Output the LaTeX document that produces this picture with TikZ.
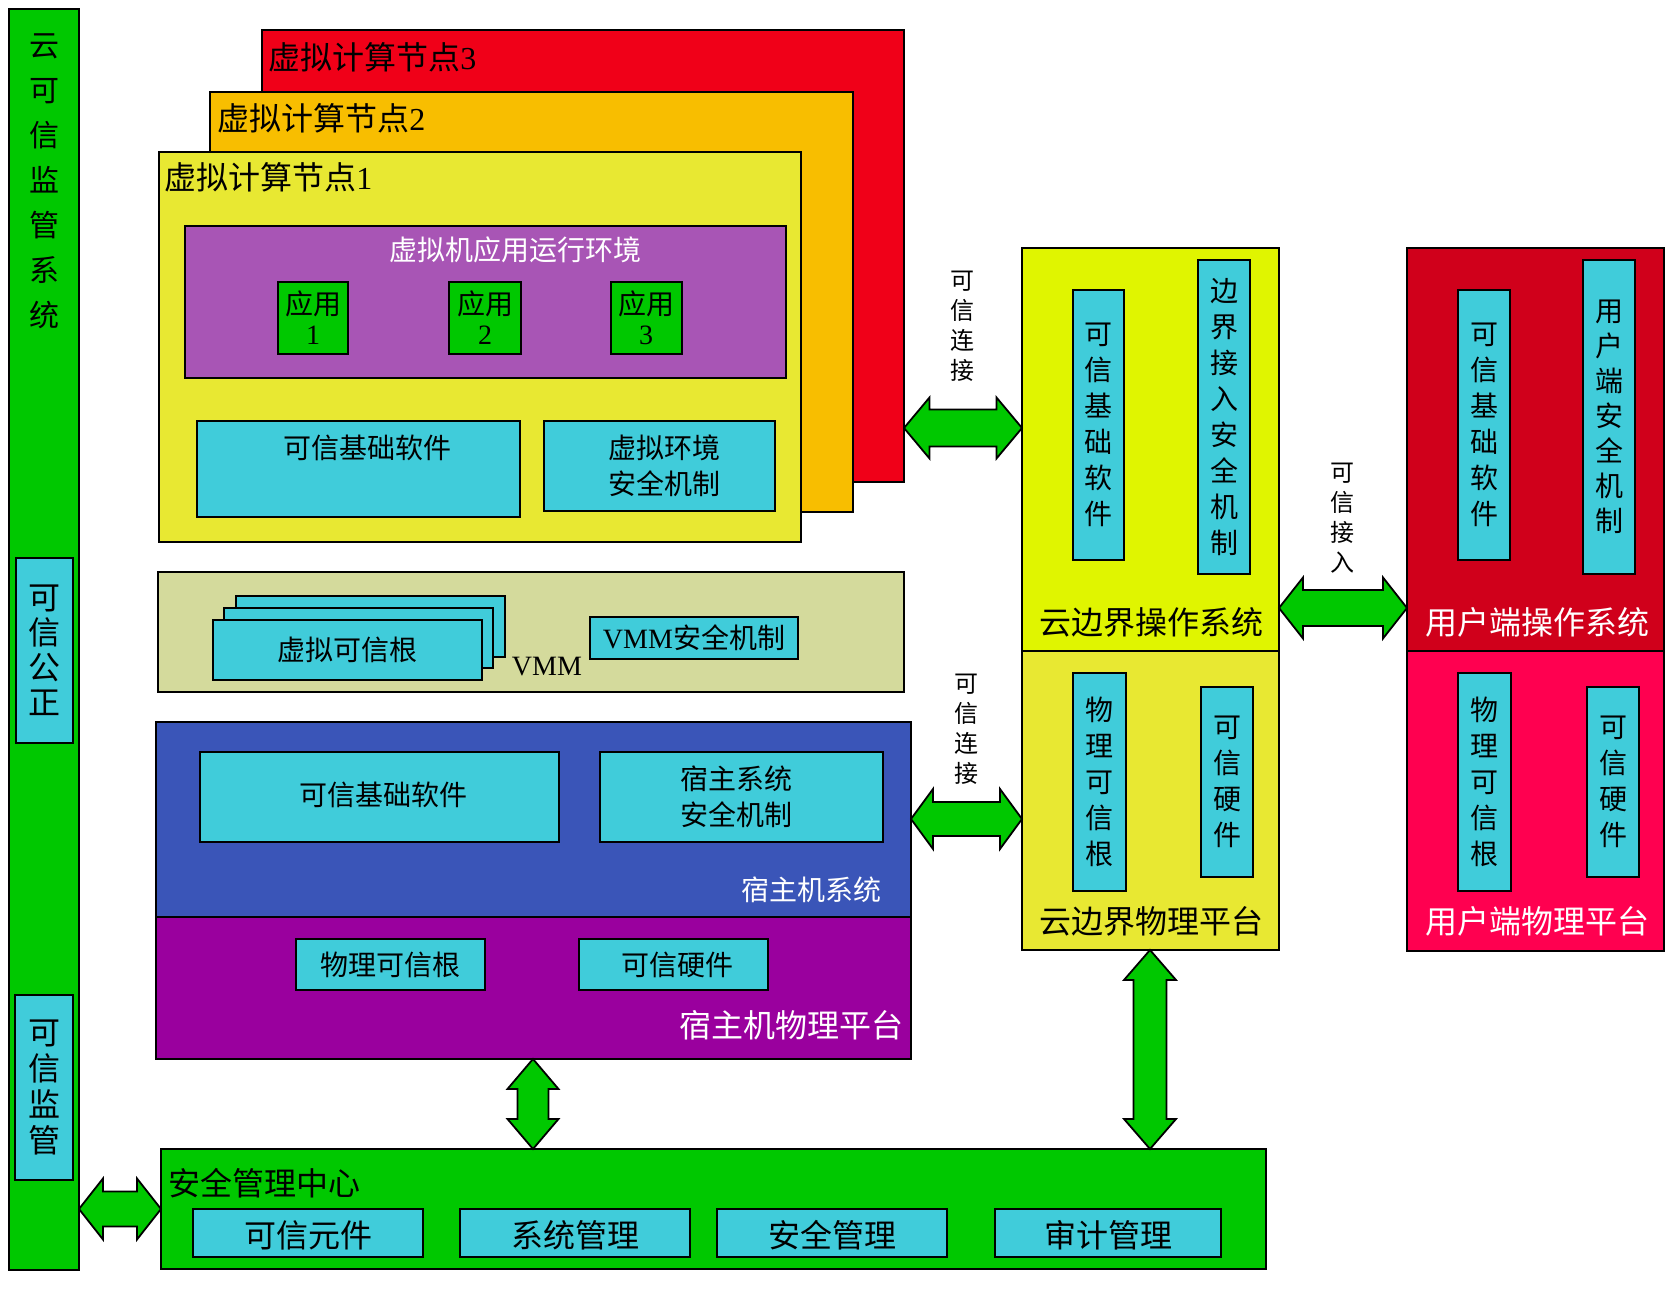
\documentclass[tikz,border=0pt]{standalone}
\usepackage{fontspec}
\setmainfont{Noto Sans CJK SC}
\newfontfamily\lat{Liberation Serif}
\usetikzlibrary{fit,calc}
\definecolor{cgreen}{RGB}{0,200,0}
\definecolor{cred}{RGB}{240,0,24}
\definecolor{corange}{RGB}{248,190,0}
\definecolor{cyellow}{RGB}{232,232,50}
\definecolor{clime}{RGB}{224,245,0}
\definecolor{cviolet}{RGB}{168,85,181}
\definecolor{ccyan}{RGB}{64,204,218}
\definecolor{cvmm}{RGB}{212,218,156}
\definecolor{cblue}{RGB}{58,85,184}
\definecolor{cpurple}{RGB}{154,0,158}
\definecolor{cdred}{RGB}{208,0,27}
\definecolor{cpink}{RGB}{255,0,80}
\newcommand\harr[5]{\draw[arr] let \p1=(#1), \p2=(#2) in
  (\p1) -- (\x1+#5,\y1+#4) -- (\x1+#5,\y1+#3) -- (\x2-#5,\y1+#3) -- (\x2-#5,\y1+#4)
  -- (\x2,\y1) -- (\x2-#5,\y1-#4) -- (\x2-#5,\y1-#3) -- (\x1+#5,\y1-#3) -- (\x1+#5,\y1-#4) -- cycle;}
\newcommand\varr[5]{\draw[arr] let \p1=(#1), \p2=(#2) in
  (\p1) -- (\x1+#4,\y1-#5) -- (\x1+#3,\y1-#5) -- (\x1+#3,\y2+#5) -- (\x1+#4,\y2+#5)
  -- (\x1,\y2) -- (\x1-#4,\y2+#5) -- (\x1-#3,\y2+#5) -- (\x1-#3,\y1-#5) -- (\x1-#4,\y1-#5) -- cycle;}
\begin{document}
\begin{tikzpicture}[x=0.5pt,y=-0.5pt,
  box/.style={draw=black,line width=1pt,inner sep=0pt,outer sep=0pt},
  cybox/.style={box,fill=ccyan},
  t12/.style={inner sep=0pt,font=\fontsize{12}{15}\selectfont,align=center},
  t14/.style={inner sep=0pt,font=\fontsize{14}{18}\selectfont,align=center},
  t16/.style={inner sep=0pt,font=\fontsize{16}{19}\selectfont,align=center},
  arr/.style={draw=black,line width=0.9pt,fill=cgreen,line join=miter}]
\fill[white] (0,0) rectangle (1672,1293);
\useasboundingbox (0,0) rectangle (1672,1293);

% left monitoring bar
\node[box,fill=cgreen,fit={(9,9)(79,1270)}] (mon) {};
\node[inner sep=0pt,font=\fontsize{15}{22.5}\selectfont,align=center] (mont) at (44,181) {云\\可\\信\\监\\管\\系\\统};
\node[cybox,fit={(16,558)(73,743)}] (mon1) {};
\node[inner sep=0pt,font=\fontsize{16}{17.5}\selectfont,align=center] (mon1t) at (mon1) {可\\信\\公\\正};
\node[cybox,fit={(15,995)(73,1180)}] (mon2) {};
\node[inner sep=0pt,font=\fontsize{16}{18}\selectfont,align=center] (mon2t) at (mon2) {可\\信\\监\\管};

% virtual compute nodes
\node[box,fill=cred,fit={(262,30)(904,482)}] (n3) {};
\node[t16,anchor=west] (n3t) at (268,57) {虚拟计算节点{\lat 3}};
\node[box,fill=corange,fit={(210,92)(853,512)}] (n2) {};
\node[t16,anchor=west] (n2t) at (217,118) {虚拟计算节点{\lat 2}};
\node[box,fill=cyellow,fit={(159,152)(801,542)}] (n1) {};
\node[t16,anchor=west] (n1t) at (164,177) {虚拟计算节点{\lat 1}};

\node[box,fill=cviolet,fit={(185,226)(786,378)}] (env) {};
\node[t14,text=white] (envt) at (515,250) {虚拟机应用运行环境};
\node[box,fill=cgreen,fit={(278,282)(348,354)}] (app1) {};
\node[box,fill=cgreen,fit={(449,282)(521,354)}] (app2) {};
\node[box,fill=cgreen,fit={(611,282)(682,354)}] (app3) {};
\node[t14,font=\fontsize{14}{15}\selectfont] (app1t) at (313,318) {应用\\{\lat 1}};
\node[t14,font=\fontsize{14}{15}\selectfont] (app2t) at (485,318) {应用\\{\lat 2}};
\node[t14,font=\fontsize{14}{15}\selectfont] (app3t) at (646,318) {应用\\{\lat 3}};

\node[cybox,fit={(197,421)(520,517)}] (n1sw) {};
\node[t14] (n1swt) at (367,448) {可信基础软件};
\node[cybox,fit={(544,421)(775,511)}] (n1sec) {};
\node[t14] (n1sect) at (664,466) {虚拟环境\\安全机制};

% VMM
\node[box,fill=cvmm,fit={(158,572)(904,692)}] (vmm) {};
\node[cybox,fit={(236,596)(505,657)}] (vroot3) {};
\node[cybox,fit={(224,608)(493,668)}] (vroot2) {};
\node[cybox,fit={(213,620)(482,680)}] (vroot1) {};
\node[t14] (vroott) at (vroot1) {虚拟可信根};
\node[t14] (vmmt) at (547,667) {\lat VMM};
\node[cybox,fit={(590,617)(798,659)}] (vmmsec) {};
\node[t14] (vmmsect) at (vmmsec) {{\lat VMM}安全机制};

% host system
\node[box,fill=cblue,fit={(156,722)(911,917)}] (host) {};
\node[cybox,fit={(200,752)(559,842)}] (hsw) {};
\node[t14] (hswt) at (383,795) {可信基础软件};
\node[cybox,fit={(600,752)(883,842)}] (hsec) {};
\node[t14] (hsect) at (736,797) {宿主系统\\安全机制};
\node[t14,text=white] (hostt) at (811,890) {宿主机系统};
\node[box,fill=cpurple,fit={(156,917)(911,1059)}] (hphy) {};
\node[cybox,fit={(296,939)(485,990)}] (hroot) {};
\node[t14] (hroott) at (hroot) {物理可信根};
\node[cybox,fit={(579,939)(768,990)}] (hhw) {};
\node[t14] (hhwt) at (677,965) {可信硬件};
\node[t16,text=white] (hphyt) at (791,1025) {宿主机物理平台};

% security management center
\node[box,fill=cgreen,fit={(161,1149)(1266,1269)}] (smc) {};
\node[t16,anchor=west] (smct) at (168,1183) {安全管理中心};
\node[cybox,fit={(193,1209)(423,1257)}] (sc1) {};
\node[t16] at (308,1235) {可信元件};
\node[cybox,fit={(460,1209)(690,1257)}] (sc2) {};
\node[t16] at (575,1235) {系统管理};
\node[cybox,fit={(717,1209)(947,1257)}] (sc3) {};
\node[t16] at (832,1235) {安全管理};
\node[cybox,fit={(995,1209)(1221,1257)}] (sc4) {};
\node[t16] at (1108,1235) {审计管理};

% cloud boundary
\node[box,fill=clime,fit={(1022,248)(1279,651)}] (cos) {};
\node[cybox,fit={(1073,290)(1124,560)}] (csw) {};
\node[t14] (cswt) at (csw) {可\\信\\基\\础\\软\\件};
\node[cybox,fit={(1198,260)(1250,574)}] (cbsec) {};
\node[t14] (cbsect) at (cbsec) {边\\界\\接\\入\\安\\全\\机\\制};
\node[t16] (cost) at (1151,622) {云边界操作系统};
\node[box,fill=cyellow,fit={(1022,651)(1279,950)}] (cphy) {};
\node[cybox,fit={(1073,673)(1126,891)}] (croot) {};
\node[t14] (croott) at (croot) {物\\理\\可\\信\\根};
\node[cybox,fit={(1201,687)(1253,877)}] (chw) {};
\node[t14] (chwt) at (chw) {可\\信\\硬\\件};
\node[t16] (cphyt) at (1151,921) {云边界物理平台};

% user side
\node[box,fill=cdred,fit={(1407,248)(1664,651)}] (uos) {};
\node[cybox,fit={(1458,290)(1510,560)}] (usw) {};
\node[t14] (uswt) at (usw) {可\\信\\基\\础\\软\\件};
\node[cybox,fit={(1583,260)(1635,574)}] (usec) {};
\node[t14,font=\fontsize{14}{17.5}\selectfont] (usect) at (usec) {用\\户\\端\\安\\全\\机\\制};
\node[t16,text=white] (uost) at (1537,622) {用户端操作系统};
\node[box,fill=cpink,fit={(1407,651)(1664,951)}] (uphy) {};
\node[cybox,fit={(1458,673)(1511,891)}] (uroot) {};
\node[t14] (uroott) at (uroot) {物\\理\\可\\信\\根};
\node[cybox,fit={(1587,687)(1639,877)}] (uhw) {};
\node[t14] (uhwt) at (uhw) {可\\信\\硬\\件};
\node[t16,text=white] (uphyt) at (1537,921) {用户端物理平台};

% connector labels
\node[t12] (l1) at (962,326) {可\\信\\连\\接};
\node[t12] (l2) at (966,729) {可\\信\\连\\接};
\node[t12] (l3) at (1342,518) {可\\信\\接\\入};

% arrows
\coordinate (ya) at (0,428);
\coordinate (yb) at (0,819);
\coordinate (yc) at (0,608);
\coordinate (yd) at (0,1209);
\coordinate (xa) at (533,0);
\coordinate (xb) at (1150,0);
\harr{n3.east |- ya}{cos.west |- ya}{9.25pt}{15.25pt}{12.75pt}
\harr{host.east |- yb}{cphy.west |- yb}{8.5pt}{15pt}{11pt}
\harr{cos.east |- yc}{uos.west |- yc}{9pt}{15.25pt}{12pt}
\harr{mon.east |- yd}{smc.west |- yd}{8.75pt}{15.25pt}{12pt}
\varr{hphy.south -| xa}{smc.north -| xa}{7.75pt}{12.75pt}{15pt}
\varr{cphy.south -| xb}{smc.north -| xb}{8.25pt}{13pt}{15pt}
\end{tikzpicture}
\end{document}
